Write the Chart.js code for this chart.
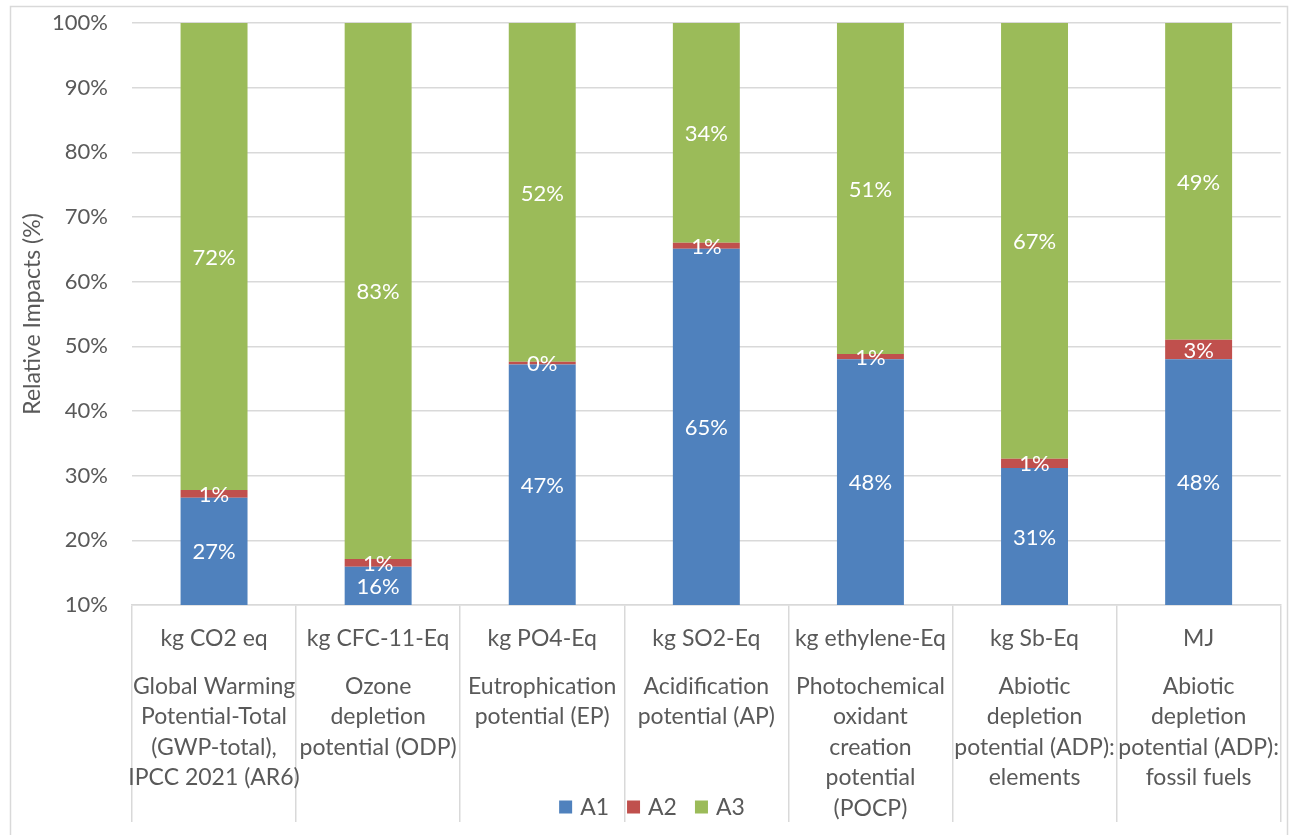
<!DOCTYPE html>
<html>
<head>
<meta charset="utf-8">
<script src="https://cdn.jsdelivr.net/npm/chart.js@4/dist/chart.umd.min.js"></script>
<style>
  html, body { margin: 0; padding: 0; background: #ffffff; }
  #wrap { width: 1296px; height: 835px; position: relative; }
</style>
</head>
<body>
<div id="wrap"><canvas id="chart" width="1296" height="835"></canvas></div>
<script>
// Impact categories: unit row and indicator name row
const units = ['kg CO2 eq', 'kg CFC-11-Eq', 'kg PO4-Eq', 'kg SO2-Eq', 'kg ethylene-Eq', 'kg Sb-Eq', 'MJ'];
const indicators = [
  ['Global Warming', 'Potential-Total', '(GWP-total),', 'IPCC 2021 (AR6)'],
  ['Ozone', 'depletion', 'potential (ODP)'],
  ['Eutrophication', 'potential (EP)'],
  ['Acidification', 'potential (AP)'],
  ['Photochemical', 'oxidant', 'creation', 'potential', '(POCP)'],
  ['Abiotic', 'depletion', 'potential (ADP):', 'elements'],
  ['Abiotic', 'depletion', 'potential (ADP):', 'fossil fuels']
];

// Share of each life-cycle module (%)
const seriesNames = ['A1', 'A2', 'A3'];
const a1 = [26.6, 15.9, 47.2, 65.1, 48.0, 31.2, 48.0];
const a2 = [1.2, 1.2, 0.4, 0.9, 0.8, 1.4, 3.0];
const a3 = [72.2, 82.9, 52.4, 34.0, 51.2, 67.4, 49.0];

// Value axis range
const yMin = 10;
const yMax = 100;
const yStep = 10;

const FONT = 'Lato';
const NUM_SIZE = 22;   // tick and value labels
const TXT_SIZE = 23;   // category labels, axis title, legend
const TEXT = '#595959';
const LINE = '#d9d9d9';

// Frame around the whole chart
const framePlugin = {
  id: 'frame',
  beforeDraw(chart) {
    const { ctx } = chart;
    ctx.save();
    ctx.fillStyle = '#ffffff';
    ctx.fillRect(0, 0, chart.width, chart.height);
    ctx.strokeStyle = LINE;
    ctx.lineWidth = 1.5;
    ctx.beginPath();
    ctx.moveTo(10.5, chart.height + 5);
    ctx.lineTo(10.5, 6.5);
    ctx.lineTo(1287.5, 6.5);
    ctx.lineTo(1287.5, chart.height + 5);
    ctx.stroke();
    ctx.restore();
  }
};

// Value labels centred in the visible part of each segment
const segmentLabels = {
  id: 'segmentLabels',
  afterDatasetsDraw(chart) {
    const { ctx, chartArea } = chart;
    ctx.save();
    ctx.font = `${NUM_SIZE}px ${FONT}`;
    ctx.fillStyle = '#ffffff';
    ctx.textAlign = 'center';
    ctx.textBaseline = 'middle';
    chart.data.datasets.forEach((ds, di) => {
      const meta = chart.getDatasetMeta(di);
      meta.data.forEach((bar, i) => {
        const top = Math.max(Math.min(bar.y, bar.base), chartArea.top);
        const bottom = Math.min(Math.max(bar.y, bar.base), chartArea.bottom);
        ctx.fillText(Math.round(ds.data[i]) + '%', bar.x, (top + bottom) / 2 + 1);
      });
    });
    ctx.restore();
  }
};

// Legend laid over the label band, centred under the plot
const bottomLegend = {
  id: 'bottomLegend',
  afterDraw(chart) {
    const { ctx } = chart;
    const box = 13, gapText = 8, gapItem = 18;
    ctx.save();
    ctx.font = `${TXT_SIZE}px ${FONT}`;
    ctx.textBaseline = 'middle';
    ctx.textAlign = 'left';
    const items = chart.data.datasets.map(ds => ({
      label: ds.label, color: ds.backgroundColor, w: ctx.measureText(ds.label).width
    }));
    const total = items.reduce((s, it) => s + box + gapText + it.w, 0) + gapItem * (items.length - 1);
    let x = 652 - total / 2;
    const y = 807;
    items.forEach(it => {
      ctx.fillStyle = it.color;
      ctx.fillRect(x, y - box / 2, box, box);
      ctx.fillStyle = TEXT;
      ctx.fillText(it.label, x + box + gapText, y + 1);
      x += box + gapText + it.w + gapItem;
    });
    ctx.restore();
  }
};

const colors = ['#4f81bd', '#c0504d', '#9bbb59'];
const values = [a1, a2, a3];

function draw() {
  new Chart(document.getElementById('chart'), {
    type: 'bar',
    data: {
      labels: units,
      datasets: seriesNames.map((name, i) => ({
        label: name,
        data: values[i],
        backgroundColor: colors[i],
        borderWidth: 0,
        categoryPercentage: 1,
        barPercentage: 0.408
      }))
    },
    options: {
      responsive: false,
      animation: false,
      layout: { padding: { left: 10, right: 9, top: 23, bottom: 0 } },
      plugins: {
        legend: { display: false },
        tooltip: { enabled: false }
      },
      scales: {
        x: {
          type: 'category',
          stacked: true,
          offset: true,
          weight: 0,
          grid: { offset: true, drawOnChartArea: false, drawTicks: true, tickLength: 217, color: LINE, lineWidth: 1.5 },
          border: { display: true, color: LINE, width: 1.5 },
          ticks: { padding: -199, color: TEXT, font: { family: FONT, size: TXT_SIZE, lineHeight: 1.33 }, maxRotation: 0, autoSkip: false },
          afterFit(s) { s.height = 50; }
        },
        x2: {
          type: 'category',
          labels: indicators,
          position: 'bottom',
          offset: true,
          weight: 1,
          grid: { display: false, drawTicks: false },
          border: { display: false },
          ticks: { padding: 16, color: TEXT, font: { family: FONT, size: TXT_SIZE, lineHeight: 1.33 }, maxRotation: 0, autoSkip: false },
          afterFit(s) { s.height = 180; }
        },
        y: {
          stacked: true,
          min: yMin,
          max: yMax,
          grid: { color: LINE, lineWidth: 1.5, drawTicks: true, tickLength: 24, tickColor: 'rgba(0,0,0,0)' },
          border: { display: false },
          ticks: {
            stepSize: yStep,
            padding: 0,
            color: TEXT,
            font: { family: FONT, size: NUM_SIZE },
            callback: v => v + '%'
          },
          title: {
            display: true,
            text: 'Relative Impacts (%)',
            color: TEXT,
            font: { family: FONT, size: TXT_SIZE, lineHeight: 1.2 },
            padding: { top: 9, bottom: 0 }
          },
          afterFit(s) { s.width = 122; }
        }
      }
    },
    plugins: [framePlugin, segmentLabels, bottomLegend]
  });
}

if (document.fonts && document.fonts.load) {
  document.fonts.load(`${TXT_SIZE}px ${FONT}`).then(draw, draw);
} else {
  draw();
}
</script>
</body>
</html>
